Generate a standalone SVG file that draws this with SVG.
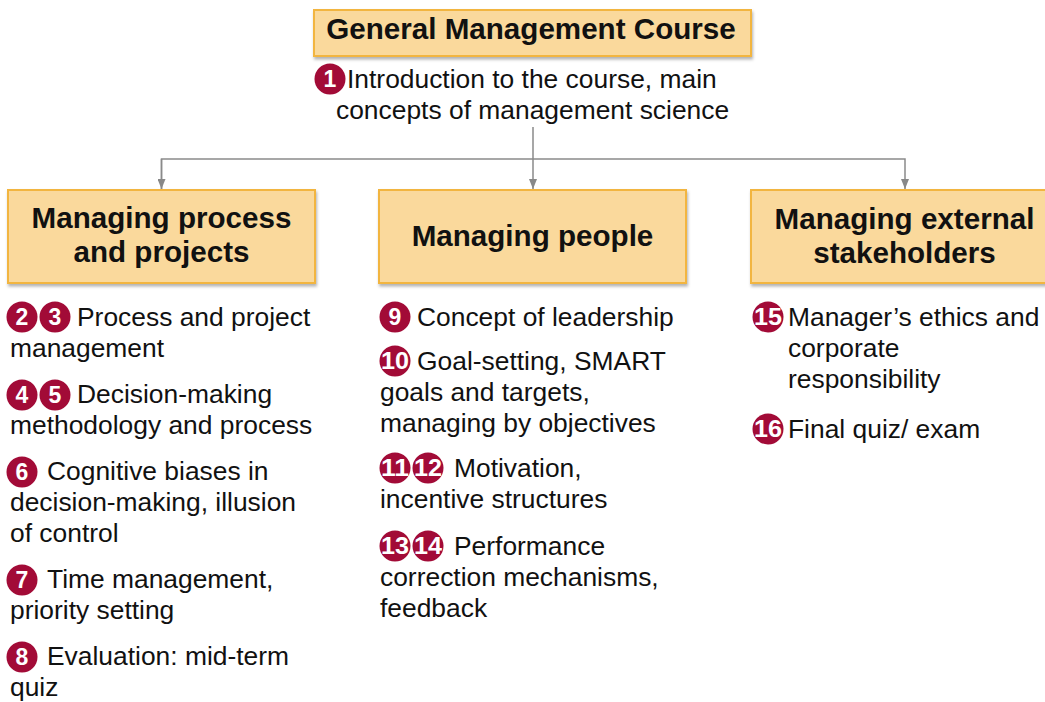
<svg xmlns="http://www.w3.org/2000/svg" width="1045" height="702" viewBox="0 0 1045 702">
<defs>
<filter id="sh" x="-5%" y="-10%" width="110%" height="130%">
<feDropShadow dx="1" dy="2.5" stdDeviation="1.5" flood-color="#000" flood-opacity="0.3"/>
</filter>
<marker id="ar" viewBox="0 0 10 8" refX="10" refY="4" markerWidth="10" markerHeight="8" markerUnits="userSpaceOnUse" orient="auto">
<path d="M0,0 L10,4 L0,8 Z" fill="#888"/>
</marker>
</defs>
<style>
.box{fill:#FAD99C;stroke:#F2B53F;stroke-width:2;filter:url(#sh)}
.ttl{font-family:"Liberation Sans",Arial,sans-serif;font-weight:bold;font-size:29.6px;fill:#111;text-anchor:middle}
.t{font-family:"Liberation Sans",Arial,sans-serif;font-size:26.4px;fill:#111}
.c{fill:#A20B37}
.n{font-family:"Liberation Sans",Arial,sans-serif;font-weight:bold;font-size:23px;fill:#fff;text-anchor:middle}
.ln{fill:none;stroke:#8a8a8a;stroke-width:1.5}
</style>
<rect width="1045" height="702" fill="#fff"/>

<g id="connectors">
<path class="ln" d="M533,127 L533,189" marker-end="url(#ar)"/>
<path class="ln" d="M161.5,189 L161.5,159 L905,159 L905,189" marker-end="url(#ar)"/>
<path class="ln" d="M161.5,159 L161.5,189" marker-end="url(#ar)"/>
</g>

<g id="course">
<rect class="box" x="314" y="10" width="437" height="46"/>
<text class="ttl" x="531" y="39">General Management Course</text>
<circle class="c" cx="330" cy="79" r="15.5"/><text class="n" x="330" y="87">1</text>
<text class="t" x="347" y="88">Introduction to the course, main</text>
<text class="t" x="336" y="119">concepts of management science</text>
</g>

<g id="process">
<rect class="box" x="8" y="190" width="307" height="93"/>
<text class="ttl" x="161.5" y="228">Managing process</text>
<text class="ttl" x="161.5" y="262">and projects</text>
<circle class="c" cx="22" cy="317" r="15.5"/><text class="n" x="22" y="325">2</text>
<circle class="c" cx="55" cy="317" r="15.5"/><text class="n" x="55" y="325">3</text>
<text class="t" x="77" y="326">Process and project</text>
<text class="t" x="10" y="357">management</text>
<circle class="c" cx="22" cy="395" r="15.5"/><text class="n" x="22" y="403">4</text>
<circle class="c" cx="55" cy="395" r="15.5"/><text class="n" x="55" y="403">5</text>
<text class="t" x="77" y="403">Decision-making</text>
<text class="t" x="10" y="434">methodology and process</text>
<circle class="c" cx="22" cy="472" r="15.5"/><text class="n" x="22" y="480">6</text>
<text class="t" x="47" y="480">Cognitive biases in</text>
<text class="t" x="10" y="511">decision-making, illusion</text>
<text class="t" x="10" y="542">of control</text>
<circle class="c" cx="22" cy="580" r="15.5"/><text class="n" x="22" y="588">7</text>
<text class="t" x="47" y="588">Time management,</text>
<text class="t" x="10" y="619">priority setting</text>
<circle class="c" cx="22" cy="657" r="15.5"/><text class="n" x="22" y="665">8</text>
<text class="t" x="47" y="665">Evaluation: mid-term</text>
<text class="t" x="10" y="696">quiz</text>
</g>

<g id="people">
<rect class="box" x="379" y="190" width="307" height="93"/>
<text class="ttl" x="532.5" y="246">Managing people</text>
<circle class="c" cx="395" cy="317" r="15.5"/><text class="n" x="395" y="325">9</text>
<text class="t" x="417" y="326">Concept of leadership</text>
<circle class="c" cx="395" cy="361" r="15.5"/><text class="n" x="395" y="369" textLength="28" lengthAdjust="spacingAndGlyphs">10</text>
<text class="t" x="417" y="370">Goal-setting, SMART</text>
<text class="t" x="380" y="401">goals and targets,</text>
<text class="t" x="380" y="432">managing by objectives</text>
<circle class="c" cx="395" cy="468" r="15.5"/><text class="n" x="395" y="476" textLength="28" lengthAdjust="spacingAndGlyphs">11</text>
<circle class="c" cx="428" cy="468" r="15.5"/><text class="n" x="428" y="476" textLength="28" lengthAdjust="spacingAndGlyphs">12</text>
<text class="t" x="454" y="477">Motivation,</text>
<text class="t" x="380" y="508">incentive structures</text>
<circle class="c" cx="395" cy="546" r="15.5"/><text class="n" x="395" y="554" textLength="28" lengthAdjust="spacingAndGlyphs">13</text>
<circle class="c" cx="428" cy="546" r="15.5"/><text class="n" x="428" y="554" textLength="28" lengthAdjust="spacingAndGlyphs">14</text>
<text class="t" x="454" y="555">Performance</text>
<text class="t" x="380" y="586">correction mechanisms,</text>
<text class="t" x="380" y="617">feedback</text>
</g>

<g id="external">
<rect class="box" x="751" y="190" width="307" height="93"/>
<text class="ttl" x="904.5" y="229">Managing external</text>
<text class="ttl" x="904.5" y="263">stakeholders</text>
<circle class="c" cx="768" cy="317" r="15.5"/><text class="n" x="768" y="325" textLength="28" lengthAdjust="spacingAndGlyphs">15</text>
<text class="t" x="788" y="326">Manager’s ethics and</text>
<text class="t" x="788" y="357">corporate</text>
<text class="t" x="788" y="388">responsibility</text>
<circle class="c" cx="768" cy="429" r="15.5"/><text class="n" x="768" y="437" textLength="28" lengthAdjust="spacingAndGlyphs">16</text>
<text class="t" x="788" y="438">Final quiz/ exam</text>
</g>
</svg>
